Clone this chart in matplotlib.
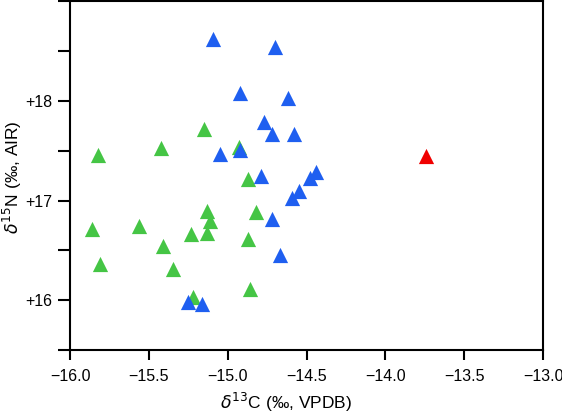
import numpy as np
import matplotlib
matplotlib.use('Agg')
import matplotlib.pyplot as plt
from matplotlib.ticker import MultipleLocator, FuncFormatter

plt.rcParams['font.family'] = ['Liberation Sans', 'DejaVu Sans']
plt.rcParams['mathtext.fontset'] = 'dejavusans'

# green group
green_c = [-15.82, -15.42, -15.15, -14.93, -14.87, -15.13, -15.11, -15.13, -15.23,
           -14.82, -14.87, -15.86, -15.56, -15.41, -15.81, -15.35, -14.86, -15.22]
green_n = [17.46, 17.53, 17.72, 17.54, 17.22, 16.90, 16.80, 16.68, 16.67,
           16.89, 16.61, 16.72, 16.75, 16.54, 16.36, 16.31, 16.11, 16.03]

# blue group
blue_c = [-15.09, -14.70, -14.92, -14.62, -14.77, -14.72, -14.58, -15.05, -14.92,
          -14.79, -14.44, -14.48, -14.55, -14.59, -14.72, -14.67, -15.25, -15.16]
blue_n = [18.62, 18.54, 18.08, 18.03, 17.79, 17.67, 17.67, 17.47, 17.51,
          17.25, 17.29, 17.23, 17.10, 17.03, 16.82, 16.45, 15.98, 15.96]

# single red point
red_c = [-13.74]
red_n = [17.45]

fig = plt.figure(figsize=(5.62, 4.15), dpi=100)
ax = fig.add_axes([0.1246, 0.1566, 0.8416, 0.8398])

ms = 120
ax.scatter(green_c, green_n, marker='^', s=ms, color='#45c545', linewidths=0, zorder=3)
ax.scatter(blue_c, blue_n, marker='^', s=ms, color='#1f5ff0', linewidths=0, zorder=3)
ax.scatter(red_c, red_n, marker='^', s=ms, color='#f00000', linewidths=0, zorder=3)

ax.set_xlim(-16.0, -13.0)
ax.set_ylim(15.5, 19.0)

ax.xaxis.set_major_locator(MultipleLocator(0.5))
ax.yaxis.set_major_locator(MultipleLocator(0.5))
ax.xaxis.set_major_formatter(FuncFormatter(lambda v, p: ('%.1f' % v).replace('-', '\u2212')))
def yfmt(v, p):
    if abs(v - round(v)) < 1e-6 and 16 <= v <= 18:
        return '+%d' % round(v)
    return ''
ax.yaxis.set_major_formatter(FuncFormatter(yfmt))

for s in ax.spines.values():
    s.set_linewidth(1.5)
ax.tick_params(axis='both', direction='out', width=1.5, labelsize=11.5, colors='black')
ax.tick_params(axis='y', length=8.5, pad=4)
ax.tick_params(axis='x', length=7.5, pad=6)

ax.set_xlabel(r'$\delta^{13}$C (‰, VPDB)', fontsize=12.5)
ax.set_ylabel(r'$\delta^{15}$N (‰, AIR)', fontsize=12.5)
ax.xaxis.set_label_coords(0.456, -0.118)
ax.yaxis.set_label_coords(-0.098, 0.495)

fig.savefig('out.png', dpi=100)
